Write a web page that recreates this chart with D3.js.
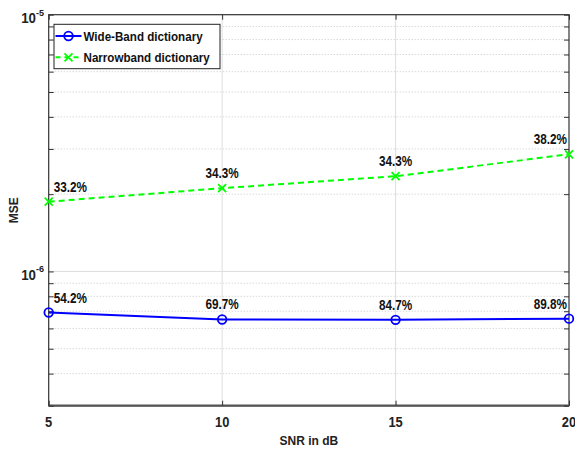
<!DOCTYPE html>
<html><head><meta charset="utf-8">
<script src="https://cdn.jsdelivr.net/npm/d3@7"></script>
<style>body{margin:0;background:#fff}svg{display:block}text{font-family:"Liberation Sans",Arial,sans-serif;font-weight:bold}</style>
</head><body>
<svg id="c" width="575" height="452"></svg>
<script>
const snr = [5, 10, 15, 20];
const wideBand = [6.92e-7, 6.5e-7, 6.48e-7, 6.55e-7];
const narrowBand = [1.87e-6, 2.11e-6, 2.35e-6, 2.86e-6];
const wideLabels = ["54.2%", "69.7%", "84.7%", "89.8%"];
const narrowLabels = ["33.2%", "34.3%", "34.3%", "38.2%"];
const xTicks = [5, 10, 15, 20];
const yMajor = [1e-6, 1e-5];
const yMajorLabels = ["-6", "-5"];
const yMinor = [3e-7,4e-7,5e-7,6e-7,7e-7,8e-7,9e-7,2e-6,3e-6,4e-6,5e-6,6e-6,7e-6,8e-6,9e-6];
const seriesNames = ["Wide-Band dictionary", "Narrowband dictionary"];

const L = 48.7, R = 569, T = 14.7, B = 405.7;
const svg = d3.select("#c");
const x = d3.scaleLinear().domain([5, 20]).range([L, R]);
const y = d3.scaleLog().domain([3e-7, 1e-5]).range([B, T]);

// grid
const g = svg.append("g");
g.selectAll(".mg").data(yMinor.filter(v => v > 3e-7)).enter().append("line")
  .attr("x1", L).attr("x2", R).attr("y1", d => y(d)).attr("y2", d => y(d))
  .attr("stroke", "#c8c8c8").attr("stroke-width", 1).attr("stroke-dasharray", "1,2");
g.selectAll(".Mg").data(yMajor.filter(v => v < 1e-5)).enter().append("line")
  .attr("x1", L).attr("x2", R).attr("y1", d => y(d)).attr("y2", d => y(d))
  .attr("stroke", "#dedede").attr("stroke-width", 1);
g.selectAll(".xg").data(xTicks.slice(1, -1)).enter().append("line")
  .attr("x1", d => x(d)).attr("x2", d => x(d)).attr("y1", T).attr("y2", B)
  .attr("stroke", "#dedede").attr("stroke-width", 1);

// axes box
const ax = "#333";
svg.append("rect").attr("x", L).attr("y", T).attr("width", R - L).attr("height", B - T)
  .attr("fill", "none").attr("stroke", ax).attr("stroke-width", 1.2);
svg.append("line").attr("x1", L).attr("x2", R).attr("y1", B).attr("y2", B).attr("stroke", "#555").attr("stroke-width", 2.2);

// ticks
const xAxisB = d3.axisBottom(x).tickValues(xTicks).tickSize(-5).tickFormat("");
const xAxisT = d3.axisTop(x).tickValues(xTicks).tickSize(-5).tickFormat("");
const yAxisL = d3.axisLeft(y).tickValues(yMajor.concat(yMinor)).tickSize(-5).tickFormat("");
const yAxisR = d3.axisRight(y).tickValues(yMajor.concat(yMinor)).tickSize(-5).tickFormat("");
[[xAxisB, `translate(0,${B})`], [xAxisT, `translate(0,${T})`], [yAxisL, `translate(${L},0)`], [yAxisR, `translate(${R},0)`]].forEach(([a, t]) => {
  const gg = svg.append("g").attr("transform", t).call(a);
  gg.select(".domain").remove();
  gg.selectAll("line").attr("stroke", ax).attr("stroke-width", 1);
});

// tick labels
svg.selectAll(".xl").data(xTicks).enter().append("text")
  .attr("transform", d => `translate(${x(d)},427) scale(0.92,1)`).attr("text-anchor", "middle")
  .attr("font-size", 14).attr("fill", "#222").text(d => d);
yMajor.forEach((v, i) => {
  svg.append("text").attr("transform", `translate(36,${y(v) + 8.5}) scale(0.95,1)`).attr("text-anchor", "end")
    .attr("font-size", 14).attr("fill", "#222").text("10");
  svg.append("text").attr("x", 36).attr("y", y(v) + 1).attr("font-size", 9).attr("fill", "#222")
    .text(yMajorLabels[i]);
});

// axis titles
svg.append("text").attr("x", (L + R) / 2).attr("y", 445).attr("text-anchor", "middle")
  .attr("font-size", 12).attr("fill", "#222").text("SNR in dB");
svg.append("text").attr("transform", `translate(18,${(T + B) / 2}) rotate(-90)`).attr("text-anchor", "middle")
  .attr("font-size", 12).attr("fill", "#222").text("MSE");

// series
const line = d3.line().x((d, i) => x(snr[i])).y(d => y(d));
svg.append("path").datum(wideBand).attr("d", line).attr("fill", "none").attr("stroke", "#0000ff").attr("stroke-width", 2);
svg.append("path").datum(narrowBand).attr("d", line).attr("fill", "none").attr("stroke", "#00ff00").attr("stroke-width", 2).attr("stroke-dasharray", "6,4");
svg.selectAll(".wm").data(wideBand).enter().append("circle")
  .attr("cx", (d, i) => x(snr[i])).attr("cy", d => y(d)).attr("r", 4.3)
  .attr("fill", "none").attr("stroke", "#0000ff").attr("stroke-width", 1.8);
const xm = (sel, s) => sel.attr("d", `M${-s},${-s}L${s},${s}M${-s},${s}L${s},${-s}`);
svg.selectAll(".nm").data(narrowBand).enter().append("path")
  .attr("transform", (d, i) => `translate(${x(snr[i])},${y(d)})`)
  .call(xm, 4).attr("stroke", "#00ff00").attr("stroke-width", 1.8).attr("fill", "none");

// labels
const anchor = i => i === 0 ? "start" : i === snr.length - 1 ? "end" : "middle";
const dxf = i => i === 0 ? 5 : i === snr.length - 1 ? -2 : 0;
function addLabels(vals, labs) {
  svg.selectAll(null).data(vals).enter().append("text")
    .attr("transform", (d, i) => `translate(${x(snr[i]) + dxf(i)},${y(d) - 10}) scale(0.84,1)`)
    .attr("text-anchor", (d, i) => anchor(i)).attr("font-size", 14)
    .attr("fill", "#111").text((d, i) => labs[i]);
}
addLabels(wideBand, wideLabels);
addLabels(narrowBand, narrowLabels);

// legend
const lg = svg.append("g");
lg.append("rect").attr("x", 54).attr("y", 24.3).attr("width", 166).attr("height", 44.4)
  .attr("fill", "#fff").attr("stroke", "#222").attr("stroke-width", 1);
const rows = [36, 57.3];
lg.append("line").attr("x1", 55.5).attr("x2", 81.5).attr("y1", rows[0]).attr("y2", rows[0]).attr("stroke", "#0000ff").attr("stroke-width", 2);
lg.append("circle").attr("cx", 68.5).attr("cy", rows[0]).attr("r", 4.3).attr("fill", "none").attr("stroke", "#0000ff").attr("stroke-width", 1.8);
lg.append("line").attr("x1", 55.5).attr("x2", 81.5).attr("y1", rows[1]).attr("y2", rows[1]).attr("stroke", "#00ff00").attr("stroke-width", 2).attr("stroke-dasharray", "5,4");
lg.append("path").attr("transform", `translate(68.5,${rows[1]})`).call(xm, 4).attr("stroke", "#00ff00").attr("stroke-width", 1.8);
seriesNames.forEach((n, i) => {
  lg.append("text").attr("transform", `translate(83.5,${rows[i] + 5}) scale(0.86,1)`).attr("font-size", 13.5)
    .attr("fill", "#111").text(n);
});
</script>
</body></html>
